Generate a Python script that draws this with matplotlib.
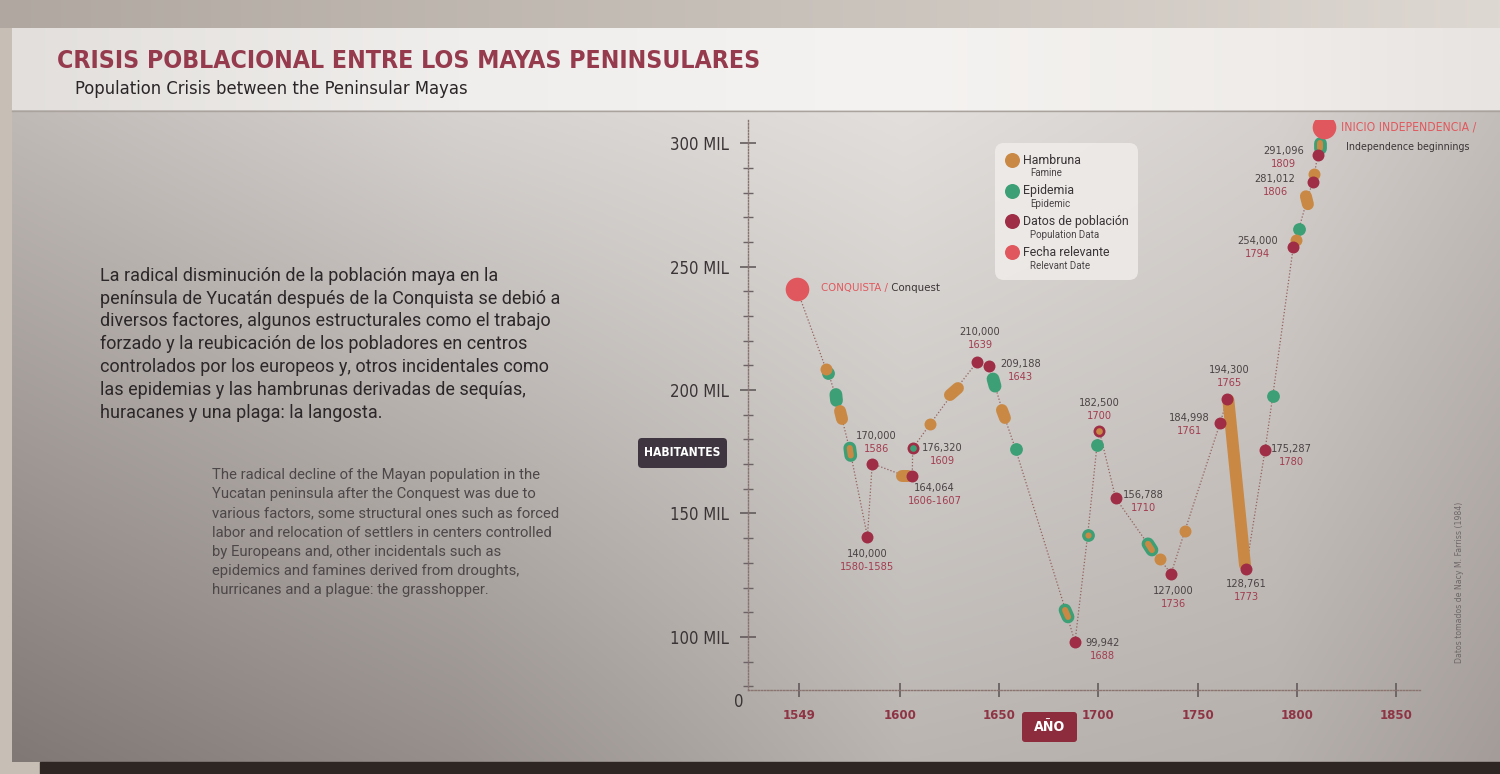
import numpy as np
import matplotlib
matplotlib.use('Agg')
import matplotlib.pyplot as plt
from matplotlib import font_manager
from matplotlib.patches import FancyBboxPatch, Rectangle
from matplotlib.ticker import FixedLocator, MultipleLocator

# ---------- data ----------
# relevant dates (big red dots)
rel_year = [1548.0, 1813.7]
rel_value = [241000, 306600]
rel_title = ['CONQUISTA /', 'INICIO INDEPENDENCIA /']
rel_sub = ['Conquest', 'Independence beginnings']

# population data (dark red dots), pop_inner = colour of the centre on the two ringed dots
pop_year = [1583.6, 1586.0, 1606.2, 1606.4, 1638.8, 1644.9, 1688.2, 1700.5, 1708.7,
            1736.6, 1761.3, 1765.0, 1774.4, 1784.0, 1798.2, 1808.0, 1810.5]
pop_value = [140600, 170200, 165200, 176400, 211300, 209700, 97900, 183500, 156200,
             125500, 186500, 196400, 127500, 175700, 257800, 284300, 295100]
pop_text = ['140,000', '170,000', '164,064', '176,320', '210,000', '209,188', '99,942',
            '182,500', '156,788', '127,000', '184,998', '194,300', '128,761', '175,287',
            '254,000', '281,012', '291,096']
pop_date = ['1580-1585', '1586', '1606-1607', '1609', '1639', '1643', '1688', '1700',
            '1710', '1736', '1761', '1765', '1773', '1780', '1794', '1806', '1809']
pop_inner = [None, None, None, 'epi', None, None, None, 'fam', None,
             None, None, None, None, None, None, None, None]

# famine (orange), start/end of each mark (same start and end = single dot)
fam_start = [1562.7, 1569.8, 1600.9, 1615.1, 1625.2, 1651.4, 1731.0, 1743.6, 1765.5, 1799.6, 1804.6, 1808.9]
fam_end = [1562.7, 1570.8, 1604.2, 1615.1, 1629.2, 1652.9, 1731.0, 1743.6, 1773.9, 1799.6, 1805.6, 1808.9]
fam_v0 = [208500, 191500, 165200, 186100, 198000, 191900, 131600, 143000, 196000, 260700, 278500, 287400]
fam_v1 = [208500, 188300, 165200, 186100, 200800, 188700, 131600, 143000, 129100, 260700, 275300, 287400]

# epidemic (green), epi_famine = famine at the same time (orange centre)
epi_start = [1563.9, 1567.7, 1574.7, 1646.9, 1658.3, 1683.2, 1694.6, 1699.3, 1725.0, 1787.9, 1801.0, 1811.7]
epi_end = [1563.9, 1568.0, 1575.2, 1647.9, 1658.3, 1684.7, 1694.6, 1699.3, 1727.0, 1787.9, 1801.0, 1811.7]
epi_v0 = [206900, 198200, 176500, 204500, 176000, 110900, 141300, 177700, 137700, 197700, 265100, 300000]
epi_v1 = [206900, 195800, 173500, 201600, 176000, 108100, 141300, 177700, 135200, 197700, 265100, 298000]
epi_famine = [False, False, True, False, False, True, True, False, True, False, False, True]

x_ticks = [1549, 1600, 1650, 1700, 1750, 1800, 1850]
y_ticks = [100000, 150000, 200000, 250000, 300000]
y_tick_labels = ['100 MIL', '150 MIL', '200 MIL', '250 MIL', '300 MIL']

leg_es = ['Hambruna', 'Epidemia', 'Datos de población', 'Fecha relevante']
leg_en = ['Famine', 'Epidemic', 'Population Data', 'Relevant Date']

title = 'CRISIS POBLACIONAL ENTRE LOS MAYAS PENINSULARES'
subtitle = 'Population Crisis between the Peninsular Mayas'
es_lines = ['La radical disminución de la población maya en la',
            'península de Yucatán después de la Conquista se debió a',
            'diversos factores, algunos estructurales como el trabajo',
            'forzado y la reubicación de los pobladores en centros',
            'controlados por los europeos y, otros incidentales como',
            'las epidemias y las hambrunas derivadas de sequías,',
            'huracanes y una plaga: la langosta.']
en_lines = ['The radical decline of the Mayan population in the',
            'Yucatan peninsula after the Conquest was due to',
            'various factors, some structural ones such as forced',
            'labor and relocation of settlers in centers controlled',
            'by Europeans and, other incidentals such as',
            'epidemics and famines derived from droughts,',
            'hurricanes and a plague: the grasshopper.']
source = 'Datos tomados de Nacy M. Farriss (1984)'

# ---------- style ----------
TITLE_C = '#963b4e'
DARK = '#3b3436'
MAROON = '#8e3445'
YEAR_C = '#a23d50'
REL = '#e0585d'
POP = '#9e2d45'
FAM = '#c98843'
EPI = '#3d9f75'
LINE_C = '#93625f'
COLORS = {'fam': FAM, 'epi': EPI}

names = {f.name for f in font_manager.fontManager.ttflist}
if 'Liberation Sans Narrow' in names:
    COND = {'family': 'Liberation Sans Narrow'}
else:
    COND = {'family': 'DejaVu Sans', 'fontstretch': 'condensed'}
BODY = 'Roboto' if 'Roboto' in names else 'DejaVu Sans'
# the panel font is narrower than what we have: trade a bit of width for height
GROW = 1.2

W, H = 1500, 774
fig = plt.figure(figsize=(W / 100, H / 100), dpi=100)
fig.patch.set_facecolor('#c7bfb5')
renderer = fig.canvas.get_renderer()


def text_width(s, size, **kw):
    t = fig.text(0, 0, s, fontsize=size, **kw)
    w = t.get_window_extent(renderer).width
    t.remove()
    return w


def fit(s, width, **kw):
    # font size that makes s about width pixels wide
    return 20 * width / text_width(s, 20, **kw)


def hgrad(stops, cols, n=500):
    xs = np.linspace(0, 1, n)
    cols = np.array(cols, dtype=float) / 255
    return np.stack([np.interp(xs, stops, cols[:, i]) for i in range(3)], axis=-1)


# ---------- panel background ----------
bg = fig.add_axes([0, 0, 1, 1])
bg.set_xlim(0, W)
bg.set_ylim(H, 0)
bg.axis('off')

stops = [0, 0.3, 0.6, 0.85, 1]
top = hgrad(stops, [(192, 186, 183), (214, 210, 207), (226, 223, 220), (214, 209, 206), (196, 190, 187)])
bot = hgrad(stops, [(128, 120, 116), (150, 143, 139), (186, 181, 177), (182, 176, 172), (163, 156, 152)])
t = np.linspace(0, 1, 200)[:, None, None]
bg.imshow(top[None] * (1 - t) + bot[None] * t, extent=(12, W, 762, 110), aspect='auto', zorder=0)

wall = hgrad([0, 1], [(176, 168, 160), (222, 216, 210)])
bg.imshow(wall[None], extent=(0, W, 28, 0), aspect='auto', zorder=0)
band = hgrad(stops, [(226, 223, 220), (240, 238, 236), (245, 243, 241), (239, 236, 233), (231, 228, 225)])
bg.imshow(band[None], extent=(12, W, 110, 28), aspect='auto', zorder=1)
bg.add_patch(Rectangle((40, 762), W, 12, color='#2e2623', zorder=1))
bg.plot([12, W], [110.5, 110.5], color='#a9a29d', lw=1, zorder=2)

bg.text(57, 67.5, title, fontsize=1.03 * fit(title, 680, weight='bold', **COND), weight='bold',
        color=TITLE_C, ha='left', va='baseline', **COND)
bg.text(75, 94, subtitle, fontsize=1.05 * fit(subtitle, 374, **COND), color='#2a2527',
        ha='left', va='baseline', **COND)

es_fs = fit(es_lines[1], 459, family=BODY)
for i, line in enumerate(es_lines):
    bg.text(99.5, 280.7 + i * 22.8, line, fontsize=es_fs, family=BODY, color='#2c2729',
            ha='left', va='baseline')
en_fs = fit(en_lines[2], 346, family=BODY)
for i, line in enumerate(en_lines):
    bg.text(211.7, 479 + i * 19.2, line, fontsize=en_fs, family=BODY, color='#4d4749',
            ha='left', va='baseline')

bg.text(1459, 582, source, rotation=90, fontsize=fit(source, 160, family='DejaVu Sans'),
        color='#6e6769', ha='center', va='center')

# axis title boxes
bg.add_patch(FancyBboxPatch((638, 438), 89, 30, boxstyle='round,pad=0,rounding_size=4',
                            fc='#3e3540', ec='none', zorder=2))
bg.text(682.5, 453, 'HABITANTES', fontsize=fit('HABITANTES', 76, weight='bold', **COND),
        weight='bold', color='white', ha='center', va='center', zorder=3, **COND)
bg.add_patch(FancyBboxPatch((1022, 712), 55, 30, boxstyle='round,pad=0,rounding_size=3',
                            fc='#8c2c3c', ec='none', zorder=2))
bg.text(1049.5, 727, 'AÑO', fontsize=GROW * fit('AÑO', 26, weight='bold', **COND),
        weight='bold', color='white', ha='center', va='center', zorder=3, **COND)

# legend
bg.add_patch(FancyBboxPatch((995, 143), 143, 137, boxstyle='round,pad=0,rounding_size=9',
                            fc='#f1eeec', ec='none', alpha=0.8, zorder=2))
leg_fs = fit(leg_es[0], 58, family=BODY)
leg_sub_fs = fit(leg_en[0], 32, family=BODY)
for i, (es, en, c) in enumerate(zip(leg_es, leg_en, [FAM, EPI, POP, REL])):
    y = 160 + i * 30.7
    bg.scatter([1011.7], [y], s=10.8 ** 2, color=c, lw=0, zorder=3)
    bg.text(1023, y, es, fontsize=leg_fs, family=BODY, color='#3a3436', ha='left',
            va='center', zorder=3)
    bg.text(1030, y + 13.5, en, fontsize=leg_sub_fs, family=BODY, color='#4a4446',
            ha='left', va='center', zorder=3)

# ---------- chart ----------
ax = fig.add_axes([748 / W, 1 - 690 / H, (1420 - 748) / W, (690 - 120) / H])
ax.patch.set_alpha(0)
ax.set_xlim(1523.4, 1862.1)
ax.set_ylim(78500, 309400)
for s in ['top', 'right']:
    ax.spines[s].set_visible(False)
for s in ['left', 'bottom']:
    ax.spines[s].set_linestyle((0, (1, 1.3)))
    ax.spines[s].set_color('#8a7470')
    ax.spines[s].set_linewidth(1)

ax.xaxis.set_major_locator(FixedLocator(x_ticks))
ax.set_xticklabels([str(x) for x in x_ticks])
ax.yaxis.set_major_locator(FixedLocator(y_ticks))
ax.set_yticklabels(y_tick_labels)
ax.yaxis.set_minor_locator(MultipleLocator(10000))
ytick_fs = GROW * fit('300 MIL', 49, **COND)
xtick_fs = GROW * fit('1549', 27.3, weight='bold', **COND)
ax.tick_params(axis='y', which='major', direction='inout', length=11, width=1.1,
               color='#5b5355', pad=8.5, labelsize=ytick_fs, labelcolor=DARK)
ax.tick_params(axis='y', which='minor', direction='inout', length=6.5, width=1,
               color='#6b6365')
ax.tick_params(axis='x', which='major', direction='inout', length=10, width=1.1,
               color='#5b5355', pad=9, labelsize=xtick_fs, labelcolor=MAROON)
for lab in ax.get_yticklabels():
    lab.set(**COND)
for lab in ax.get_xticklabels():
    lab.set(weight='bold', **COND)
ax.annotate('0', xy=(0, 0), xycoords='axes fraction', xytext=(-9, -12),
            textcoords='offset pixels', ha='center', va='center', fontsize=ytick_fs,
            color=DARK, **COND)

# dotted line through every mark in time order
path_x = [(a + b) / 2 for a, b in zip(fam_start, fam_end)] + \
         [(a + b) / 2 for a, b in zip(epi_start, epi_end)] + pop_year + rel_year
path_y = [(a + b) / 2 for a, b in zip(fam_v0, fam_v1)] + \
         [(a + b) / 2 for a, b in zip(epi_v0, epi_v1)] + pop_value + rel_value
order = np.argsort(path_x)
ax.plot(np.array(path_x)[order], np.array(path_y)[order], color=LINE_C, lw=0.9,
        ls=(0, (1, 1.6)), zorder=2)

DOT = 8.6  # points


def blob(x0, x1, v0, v1, color, d, z):
    if x0 == x1 and v0 == v1:
        ax.scatter([x0], [v0], s=d ** 2, color=color, lw=0, zorder=z)
    else:
        ax.plot([x0, x1], [v0, v1], lw=d, color=color, solid_capstyle='round', zorder=z)


for x0, x1, v0, v1, both in zip(epi_start, epi_end, epi_v0, epi_v1, epi_famine):
    blob(x0, x1, v0, v1, EPI, DOT + 0.6, 3)
    if both:
        blob(x0, x1, v0, v1, FAM, 4.4, 3.1)
for x0, x1, v0, v1 in zip(fam_start, fam_end, fam_v0, fam_v1):
    blob(x0, x1, v0, v1, FAM, DOT, 4)
for x, v, inner in zip(pop_year, pop_value, pop_inner):
    blob(x, x, v, v, POP, DOT, 5)
    if inner:
        blob(x, x, v, v, COLORS[inner], 4.8, 5.1)
ax.scatter(rel_year, rel_value, s=17 ** 2, color=REL, lw=0, zorder=6)

# value / year labels: offset of the label centre on the panel (pixels)
lab_dx = [0, 4, 19, 26, 3, 28, 25, 0, 24, 2, -27, 2, 0, 23, -32, -34, -31]
lab_dy = [-17, 28, -12, 0, 30, 2, -1, 28, 3, -17, 5, 29, -15, 1, 6, 3, 4]
lab_fs = GROW * fit('240,000', 34, **COND)
for x, v, txt, d, dx, dy in zip(pop_year, pop_value, pop_text, pop_date, lab_dx, lab_dy):
    # labels beside a dot keep their inner edge where the panel has it
    grow = (text_width(txt, lab_fs, **COND) - 4.85 * len(txt)) / 2
    if dx > 15:
        dx += grow
    elif dx < -15:
        dx -= grow
    ax.annotate(txt, (x, v), xytext=(dx, dy), textcoords='offset pixels', ha='center',
                va='center', fontsize=lab_fs, color='#4a4244', zorder=7, **COND)
    ax.annotate(d, (x, v), xytext=(dx, dy - 13), textcoords='offset pixels', ha='center',
                va='center', fontsize=lab_fs, color=YEAR_C, zorder=7, **COND)

# relevant date labels
rel_fs = 1.1 * fit(rel_title[0][:-2], 55, **COND)
t1 = ax.annotate(rel_title[0], (rel_year[0], rel_value[0]), xytext=(24, 1),
                 textcoords='offset pixels', ha='left', va='center', fontsize=rel_fs,
                 color=REL, **COND)
ax.annotate(' ' + rel_sub[0], xy=(1, 0.5), xycoords=t1, ha='left', va='center',
            fontsize=rel_fs, color=DARK, **COND)
ax.annotate(rel_title[1], (rel_year[1], rel_value[1]), xytext=(17, 0),
            textcoords='offset pixels', ha='left', va='center',
            fontsize=1.1 * fit(rel_title[1], 123, **COND), color=REL, **COND)
ax.annotate(rel_sub[1], (rel_year[1], rel_value[1]), xytext=(22, -20),
            textcoords='offset pixels', ha='left', va='center',
            fontsize=1.1 * fit(rel_sub[1], 113, **COND), color=DARK, **COND)

fig.savefig('out.png', dpi=100, facecolor=fig.get_facecolor())
